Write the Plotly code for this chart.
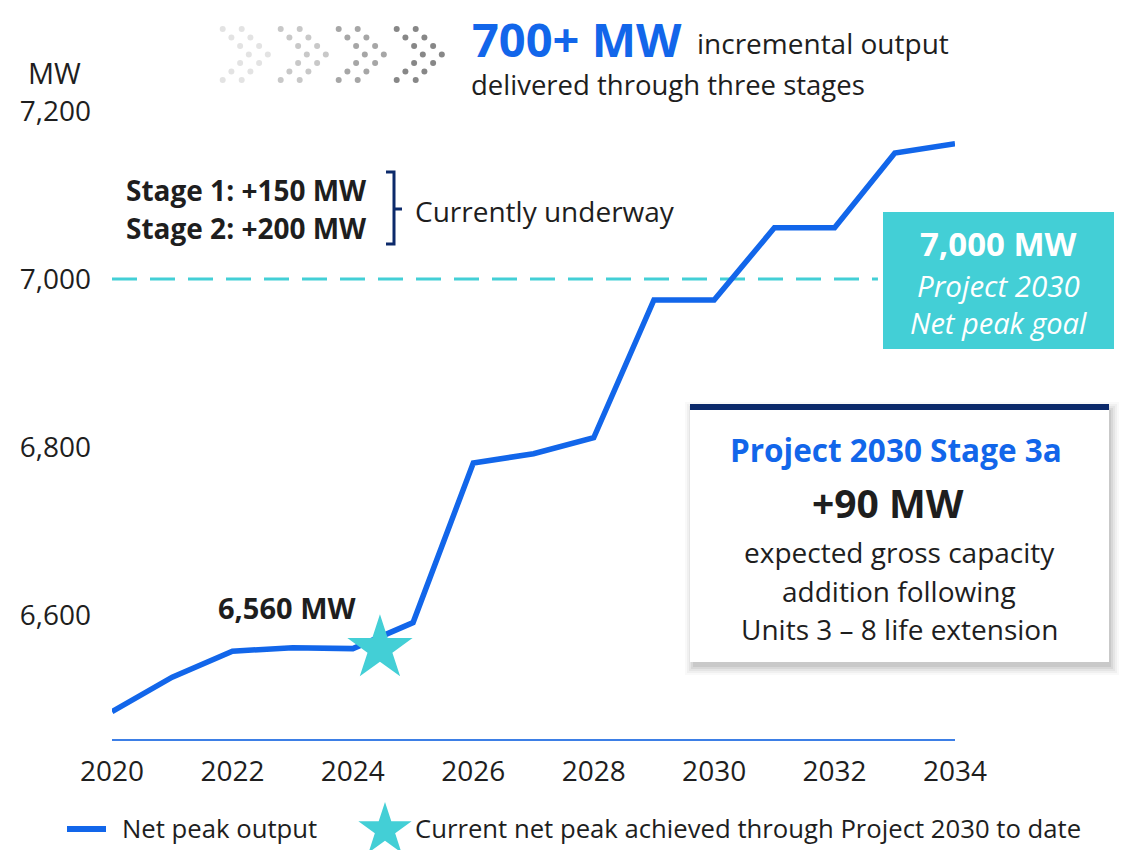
import plotly.graph_objects as go

# ---- data -------------------------------------------------------------
years = list(range(2020, 2035))
net_peak_mw = [6485, 6526, 6557, 6561, 6560, 6591, 6781, 6792, 6811,
               6975, 6975, 7061, 7061, 7150, 7161]
current_year = 2024.45
current_mw = 6560
goal_mw = 7000
goal_line_end = 2032.72
y_ticks = [6600, 6800, 7000, 7200]
y_tick_text = ["6,600", "6,800", "7,000", "7,200"]
x_ticks = list(range(2020, 2035, 2))

# ---- styling ----------------------------------------------------------
W, H = 1127, 850
BLUE = "#1266ea"
TEAL = "#43cfd6"
NAVY = "#0c2a6b"
INK = "#1e1e1e"
FONT = "Open Sans"

# main plot area in page pixels
PL, PR, PT, PB = 112, 955, 100, 739

fig = go.Figure()

fig.add_trace(go.Scatter(
    x=years, y=net_peak_mw, mode="lines",
    line=dict(color=BLUE, width=5.5),
    showlegend=False, hoverinfo="skip"))

fig.add_trace(go.Scatter(
    x=[current_year], y=[current_mw], mode="markers",
    marker=dict(symbol="star", size=49, color=TEAL, line=dict(width=0)),
    showlegend=False, hoverinfo="skip"))

# decorative chevrons of dots + legend star, on a full-page pixel overlay
dot_x, dot_y, dot_c = [], [], []
chev_colors = ["#e3e3e3", "#c8c8c8", "#a6a6a6", "#878787"]
for c, col in enumerate(chev_colors):
    for k in range(7):
        off = 8.7 * (3 - abs(k - 3))
        for pair in (0, 19):
            dot_x.append(222.7 + 58 * c + off + pair)
            dot_y.append(29 + 8.5 * k)
            dot_c.append(col)

fig.add_trace(go.Scatter(
    x=dot_x, y=dot_y, mode="markers", xaxis="x2", yaxis="y2",
    marker=dict(size=6, color=dot_c, line=dict(width=0)),
    showlegend=False, hoverinfo="skip"))

fig.add_trace(go.Scatter(
    x=[385], y=[830], mode="markers", xaxis="x2", yaxis="y2",
    marker=dict(symbol="star", size=40, color=TEAL, line=dict(width=0)),
    showlegend=False, hoverinfo="skip"))

shapes = []
# goal reference line
shapes.append(dict(type="line", xref="x", yref="y", x0=2020, x1=goal_line_end,
                   y0=goal_mw, y1=goal_mw, layer="below",
                   line=dict(color=TEAL, width=3, dash="25px,13px")))
# goal box
shapes.append(dict(type="rect", xref="x2", yref="y2", x0=883, x1=1114, y0=212, y1=349,
                   fillcolor=TEAL, line=dict(width=0), layer="below"))
# stage 3a card with soft shadow, heavier along the bottom edge
for i, op in enumerate([0.025, 0.035, 0.045, 0.055, 0.065]):
    g = 10 - 2 * i
    shapes.append(dict(type="rect", xref="x2", yref="y2",
                       x0=690 - g + 5, x1=1109 + g, y0=404 - g + 8, y1=662 + g + 3,
                       fillcolor=f"rgba(0,0,0,{op})", line=dict(width=0), layer="below"))
shapes.append(dict(type="rect", xref="x2", yref="y2", x0=690, x1=1109, y0=404, y1=662,
                   fillcolor="white", line=dict(width=0), layer="below"))
shapes.append(dict(type="rect", xref="x2", yref="y2", x0=690, x1=1109, y0=404, y1=410,
                   fillcolor=NAVY, line=dict(width=0), layer="below"))
# bracket beside the stage list
shapes.append(dict(type="path", xref="x2", yref="y2",
                   path="M 386 172 L 394 172 L 394 244 L 386 244 M 394 209 L 402 209",
                   line=dict(color=NAVY, width=3)))
# legend line sample
shapes.append(dict(type="line", xref="x2", yref="y2", x0=67, x1=106, y0=829, y1=829,
                   line=dict(color=BLUE, width=6)))


def txt(x, y, text, size, color=INK, bold=False, italic=False, xanchor="center"):
    t = f"<b>{text}</b>" if bold else text
    t = f"<i>{t}</i>" if italic else t
    return dict(x=x, y=y, xref="x2", yref="y2", text=t, showarrow=False,
                xanchor=xanchor, yanchor="middle",
                font=dict(family=FONT, size=size, color=color))


annotations = [
    txt(26, 72, "MW", 29, xanchor="left"),
    txt(470, 39, "700+ MW", 47, color=BLUE, bold=True, xanchor="left"),
    txt(695, 43, "incremental output", 28, xanchor="left"),
    txt(469, 84, "delivered through three stages", 27.5, xanchor="left"),
    txt(369, 190, "Stage 1: +150 MW", 28, bold=True, xanchor="right"),
    txt(369, 228, "Stage 2: +200 MW", 28, bold=True, xanchor="right"),
    txt(413, 211, "Currently underway", 28, xanchor="left"),
    txt(287, 607, "6,560 MW", 29, bold=True),
    txt(998, 243, "7,000 MW", 33, color="white", bold=True),
    txt(998, 285, "Project 2030", 29.5, color="white", italic=True),
    txt(998, 322, "Net peak goal", 29, color="white", italic=True),
    txt(896, 449, "Project 2030 Stage 3a", 31.5, color=BLUE, bold=True),
    txt(888, 502, "+90 MW", 39, bold=True),
    txt(899, 552, "expected gross capacity", 28),
    txt(899, 591, "addition following", 28),
    txt(899, 629, "Units 3 – 8 life extension", 28),
    txt(120, 828, "Net peak output", 25.7, xanchor="left"),
    txt(413, 828, "Current net peak achieved through Project 2030 to date", 25.7, xanchor="left"),
]

y_lo = 6452.4
y_hi = y_lo + (PB - PT) / 0.84

fig.update_layout(
    template="none",
    width=W, height=H, autosize=False,
    margin=dict(l=0, r=0, t=0, b=0, pad=0, autoexpand=False),
    paper_bgcolor="white", plot_bgcolor="rgba(0,0,0,0)",
    font=dict(family=FONT, color=INK),
    showlegend=False,
    shapes=shapes, annotations=annotations,
    xaxis=dict(domain=[PL / W, PR / W], range=[2020, 2034], tickvals=x_ticks,
               showgrid=False, zeroline=False, showline=True, linecolor="#3d7fe6",
               linewidth=2, ticks="", ticklabelstandoff=6, automargin=False,
               tickfont=dict(family=FONT, size=28, color=INK), anchor="y"),
    yaxis=dict(domain=[1 - PB / H, 1 - PT / H], range=[y_lo, y_hi],
               tickvals=y_ticks, ticktext=y_tick_text,
               showgrid=False, zeroline=False, showline=False, ticks="",
               ticklabelstandoff=20, automargin=False,
               tickfont=dict(family=FONT, size=28, color=INK), anchor="x"),
    xaxis2=dict(domain=[0, 1], range=[0, W], visible=False, anchor="y2",
                fixedrange=True, automargin=False),
    yaxis2=dict(domain=[0, 1], range=[H, 0], visible=False, anchor="x2",
                fixedrange=True, automargin=False),
)

fig.write_html("out.html")
